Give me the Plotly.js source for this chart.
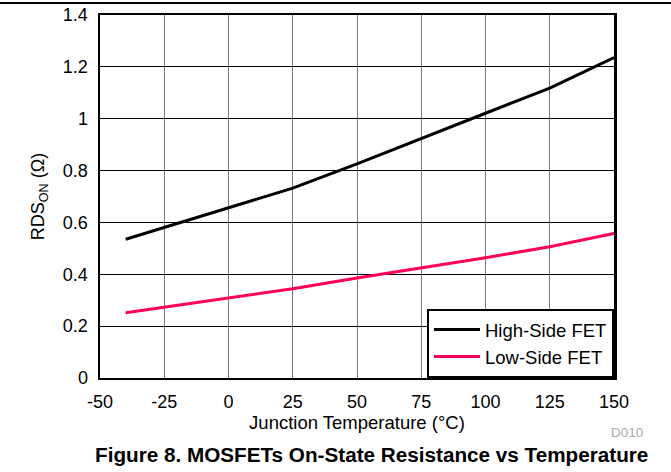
<!DOCTYPE html>
<html>
<head>
<meta charset="utf-8">
<script src="https://cdn.plot.ly/plotly-3.0.1.min.js"></script>
<style>html,body{margin:0;padding:0;background:#fff;}#chart{width:671px;height:472px;}</style>
</head>
<body>
<div id="chart"></div>
<script>
const temperature = [-40, -25, 0, 25, 50, 75, 100, 125, 150];
const highSideFET = [0.535, 0.58, 0.654, 0.732, 0.826, 0.925, 1.021, 1.118, 1.236];
const lowSideFET = [0.252, 0.273, 0.307, 0.344, 0.386, 0.425, 0.464, 0.506, 0.557];
const xTicks = [-50, -25, 0, 25, 50, 75, 100, 125, 150];
const yTicks = [0, 0.2, 0.4, 0.6, 0.8, 1, 1.2, 1.4];
const yTickLabels = ['0', '0.2', '0.4', '0.6', '0.8', '1', '1.2', '1.4'];

const font = 'Liberation Sans, Arial, sans-serif';
const traces = [
  {x: temperature, y: highSideFET, name: 'High-Side FET', mode: 'lines', line: {color: '#000000', width: 3}},
  {x: temperature, y: lowSideFET, name: 'Low-Side FET', mode: 'lines', line: {color: '#ff0055', width: 3}}
];
const layout = {
  width: 671, height: 472,
  margin: {l: 100, r: 57, t: 15, b: 94},
  paper_bgcolor: '#fff', plot_bgcolor: '#fff',
  font: {family: font, size: 18, color: '#000'},
  showlegend: true,
  legend: {x: 1, y: 0, xanchor: 'right', yanchor: 'bottom', bgcolor: '#fff', bordercolor: '#000', borderwidth: 2,
           font: {family: font, size: 18.5, color: '#000'}, tracegroupgap: 0, itemwidth: 46},
  xaxis: {range: [-50, 150], tickvals: xTicks, ticktext: xTicks.map(String), showgrid: true, gridcolor: '#777', gridwidth: 1,
          zeroline: false, showline: true, linecolor: '#000', linewidth: 2, mirror: true, ticks: '', ticklabelstandoff: 6,
          tickfont: {family: font, size: 18},
          title: {text: 'Junction Temperature (°C)', font: {family: font, size: 18.5}, standoff: 2}},
  yaxis: {range: [0, 1.4], tickvals: yTicks, ticktext: yTickLabels, showgrid: true, gridcolor: '#000', gridwidth: 1,
          zeroline: false, showline: true, linecolor: '#000', linewidth: 2.5, mirror: true, ticks: '', ticklabelstandoff: 6,
          tickfont: {family: font, size: 18},
          title: {text: 'RDS<sub>ON</sub> (Ω)', font: {family: font, size: 18}, standoff: 14}},
  shapes: [
    {type: 'line', xref: 'paper', yref: 'paper', x0: -0.2, x1: 1.12, y0: 1.033, y1: 1.033, line: {color: '#000', width: 2}}
  ],
  annotations: [
    {text: 'D010', xref: 'paper', yref: 'paper', x: 0.99, y: -0.149, xanchor: 'left', yanchor: 'middle', showarrow: false,
     font: {family: font, size: 13.5, color: '#aaa'}},
    {text: '<b>Figure 8. MOSFETs On-State Resistance vs Temperature</b>', xref: 'paper', yref: 'paper', x: 0.528, y: -0.212,
     xanchor: 'center', yanchor: 'middle', showarrow: false, font: {family: font, size: 20.7, color: '#000'}}
  ]
};
Plotly.newPlot('chart', traces, layout, {staticPlot: true, displayModeBar: false});
</script>
</body>
</html>
